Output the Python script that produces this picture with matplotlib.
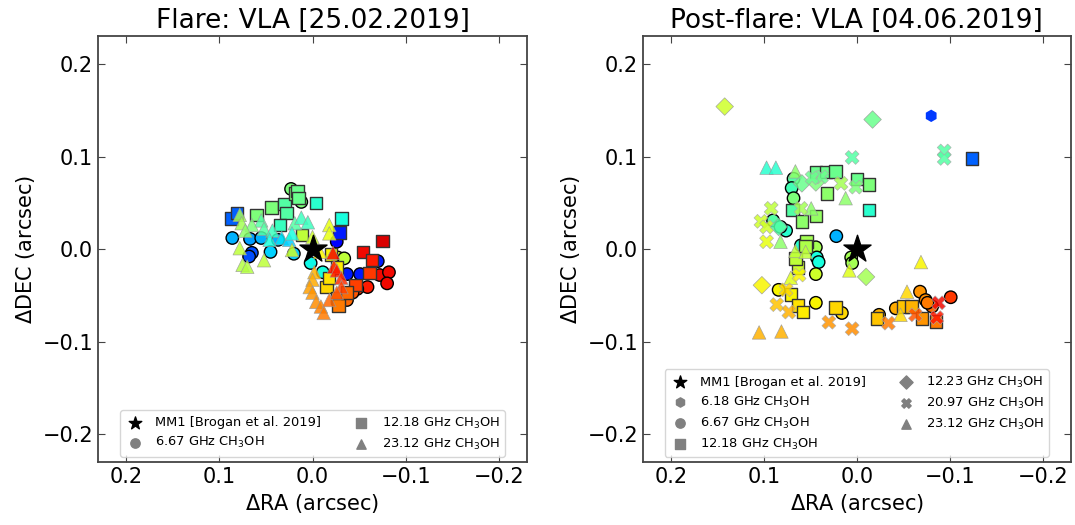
import matplotlib

matplotlib.use("Agg")
import matplotlib.pyplot as plt
import numpy as np

# ---- Flare epoch (25.02.2019): offsets in arcsec, colour = velocity scale (0-1, jet)
f_c667_ra = [0.086, 0.067, 0.065, 0.068, 0.045, 0.037, 0.055, 0.020, 0.002, -0.011,
             -0.027, -0.034, -0.026, -0.037, -0.051, -0.070, -0.059, -0.072, -0.082,
             -0.080, -0.048, -0.043, -0.037, -0.027, 0.023, 0.012]
f_c667_dec = [0.012, 0.011, -0.004, -0.008, -0.003, 0.010, 0.012, -0.005, -0.015, -0.025,
              -0.009, -0.010, 0.008, -0.027, -0.027, -0.013, -0.041, -0.028, -0.025,
              -0.037, -0.043, -0.047, -0.055, -0.057, 0.065, 0.051]
f_c667_v = [0.30, 0.28, 0.20, 0.20, 0.33, 0.30, 0.30, 0.33, 0.37, 0.38,
            0.60, 0.58, 0.12, 0.15, 0.15, 0.15, 0.88, 0.90, 0.90,
            0.90, 0.86, 0.82, 0.80, 0.78, 0.50, 0.50]

f_s1218_ra = [0.087, 0.081, 0.060, 0.044, 0.030, 0.019, 0.016, 0.015, 0.028, 0.035,
              -0.004, -0.031, -0.029, 0.011, -0.075, -0.054, -0.064, -0.061, -0.046,
              -0.020, -0.026, -0.015, -0.018, -0.026, -0.028, -0.037]
f_s1218_dec = [0.033, 0.039, 0.037, 0.045, 0.049, 0.060, 0.063, 0.055, 0.039, 0.026,
               0.050, 0.033, 0.018, 0.015, 0.009, -0.003, -0.012, -0.026, -0.039,
               -0.006, -0.020, -0.041, -0.031, -0.053, -0.061, -0.047]
f_s1218_v = [0.22, 0.22, 0.50, 0.50, 0.45, 0.50, 0.48, 0.48, 0.45, 0.42,
             0.40, 0.38, 0.15, 0.58, 0.92, 0.90, 0.88, 0.85, 0.84,
             0.65, 0.66, 0.68, 0.67, 0.78, 0.78, 0.80]

f_t2312_ra = [0.078, 0.076, 0.078, 0.075, 0.070, 0.052, 0.055, 0.052, 0.043, 0.046,
              0.033, 0.025, 0.019, 0.022, 0.012, 0.005, 0.000, 0.022, -0.018, -0.018,
              -0.008, -0.022, -0.023, -0.026, -0.031, -0.031, -0.002, 0.000, 0.003,
              0.000, -0.004, -0.009, -0.012, -0.018, -0.026, 0.065, 0.072]
f_t2312_dec = [0.037, 0.028, 0.001, -0.017, -0.019, -0.012, 0.031, 0.022, 0.020, 0.010,
               0.012, 0.010, 0.028, 0.017, 0.034, 0.029, 0.013, -0.001, 0.026, 0.017,
               -0.003, -0.004, -0.019, -0.023, -0.031, -0.041, -0.025, -0.033, -0.041,
               -0.047, -0.057, -0.062, -0.069, -0.055, -0.047, 0.026, 0.020]
f_t2312_v = [0.55, 0.55, 0.58, 0.57, 0.57, 0.58, 0.45, 0.45, 0.42, 0.38,
             0.35, 0.33, 0.45, 0.38, 0.42, 0.42, 0.60, 0.60, 0.63, 0.63,
             0.65, 0.90, 0.88, 0.88, 0.86, 0.84, 0.72, 0.73, 0.74,
             0.75, 0.76, 0.77, 0.78, 0.80, 0.82, 0.50, 0.52]

# ---- Post-flare epoch (04.06.2019)
p_h618_ra = [-0.080]
p_h618_dec = [0.144]
p_h618_v = [0.18]

p_c667_ra = [0.068, 0.070, 0.068, 0.090, 0.076, 0.082, 0.022, 0.044, 0.043, 0.041,
             0.044, 0.060, 0.006, 0.005, 0.084, 0.044, 0.016, -0.068, -0.074, -0.101,
             -0.024, -0.042, -0.081, -0.076]
p_c667_dec = [0.076, 0.066, 0.055, 0.031, 0.020, 0.024, 0.014, 0.002, -0.009, -0.014,
              -0.027, 0.004, -0.009, -0.015, -0.044, -0.058, -0.069, -0.046, -0.055, -0.052,
              -0.071, -0.064, -0.062, -0.058]
p_c667_v = [0.45, 0.43, 0.50, 0.45, 0.40, 0.42, 0.30, 0.55, 0.38, 0.38,
            0.60, 0.40, 0.55, 0.55, 0.65, 0.65, 0.68, 0.75, 0.76, 0.85,
            0.72, 0.73, 0.80, 0.78]

p_s1218_ra = [-0.124, -0.013, 0.044, 0.033, 0.023, 0.000, -0.013, 0.032, 0.069, 0.059,
              0.044, 0.054, 0.055, 0.063, 0.071, 0.063, 0.058, 0.023, -0.022, -0.050,
              -0.059, -0.070, -0.085, 0.066]
p_s1218_dec = [0.098, 0.042, 0.083, 0.083, 0.084, 0.076, 0.070, 0.060, 0.042, 0.030,
               0.036, 0.008, 0.003, -0.020, -0.049, -0.061, -0.068, -0.063, -0.075, -0.062,
               -0.062, -0.075, -0.078, -0.010]
p_s1218_v = [0.22, 0.40, 0.48, 0.48, 0.48, 0.48, 0.50, 0.52, 0.45, 0.52,
             0.53, 0.55, 0.56, 0.60, 0.65, 0.67, 0.66, 0.68, 0.70, 0.70,
             0.72, 0.75, 0.78, 0.58]

p_d1223_ra = [0.142, -0.017, 0.059, 0.044, 0.084, 0.102, -0.010]
p_d1223_dec = [0.154, 0.140, 0.071, 0.072, 0.024, -0.039, -0.030]
p_d1223_v = [0.60, 0.48, 0.48, 0.50, 0.45, 0.65, 0.55]

p_x2097_ra = [0.005, -0.094, -0.094, 0.017, 0.001, 0.038, 0.048, 0.092, 0.103, 0.097,
              0.097, 0.060, 0.062, 0.076, 0.086, 0.073, 0.030, 0.005, -0.034, -0.063,
              -0.088, -0.086]
p_x2097_dec = [0.099, 0.106, 0.098, 0.071, 0.067, 0.078, 0.077, 0.044, 0.030, 0.024,
               0.008, 0.044, -0.028, -0.044, -0.060, -0.068, -0.079, -0.086, -0.080, -0.071,
               -0.058, -0.074]
p_x2097_v = [0.45, 0.45, 0.45, 0.55, 0.50, 0.48, 0.48, 0.58, 0.60, 0.60,
             0.63, 0.55, 0.65, 0.68, 0.70, 0.72, 0.75, 0.76, 0.78, 0.82,
             0.90, 0.88]

p_t2312_ra = [0.097, 0.087, 0.066, 0.012, 0.049, 0.082, 0.066, 0.055, 0.008, -0.069,
              0.071, -0.054, -0.047, 0.105, 0.081]
p_t2312_dec = [0.088, 0.088, 0.084, 0.055, 0.044, 0.008, -0.002, -0.003, -0.023, -0.014,
               -0.031, -0.046, -0.071, -0.090, -0.089]
p_t2312_v = [0.40, 0.40, 0.52, 0.52, 0.52, 0.52, 0.58, 0.58, 0.62, 0.65,
             0.62, 0.68, 0.68, 0.72, 0.72]

cmap = plt.cm.jet
S = 80
LEG = dict(loc="lower center", ncol=2, fontsize=9.4, columnspacing=2.3,
           handlelength=1.5, handletextpad=0.8, labelspacing=0.45,
           borderaxespad=0.4)


def setup(ax, title):
    ax.set_xlim(0.23, -0.23)
    ax.set_ylim(-0.23, 0.23)
    ax.set_xticks([0.2, 0.1, 0.0, -0.1, -0.2])
    ax.set_yticks([-0.2, -0.1, 0.0, 0.1, 0.2])
    ax.tick_params(direction="in", top=True, right=True, labelsize=15,
                   length=5, color="#444444")
    for sp in ax.spines.values():
        sp.set_color("#444444")
        sp.set_linewidth(1.3)
    ax.set_title(title, fontsize=19)
    ax.set_xlabel(r"$\Delta$RA (arcsec)", fontsize=15)
    ax.set_ylabel(r"$\Delta$DEC (arcsec)", fontsize=15)


def pts(ax, x, y, v, marker, edge, s=S, alpha=1.0, lw=1.0):
    ax.scatter(x, y, c=cmap(np.array(v)), marker=marker, s=s, edgecolors=edge,
               linewidths=lw, alpha=alpha, zorder=3)


def handle(ax, marker, label, color="#808080", s=45):
    return ax.scatter([], [], marker=marker, s=s, c=color, label=label)


fig = plt.figure(figsize=(10.75, 5.25), dpi=100)
ax1 = fig.add_axes([0.0912, 0.12, 0.399, 0.811])
ax2 = fig.add_axes([0.598, 0.12, 0.398, 0.811])

# left: flare
pts(ax1, f_c667_ra, f_c667_dec, f_c667_v, "o", "black")
pts(ax1, f_s1218_ra, f_s1218_dec, f_s1218_v, "s", "#333333")
pts(ax1, f_t2312_ra, f_t2312_dec, f_t2312_v, "^", "#999999", s=95, alpha=0.85, lw=0.5)
ax1.scatter([0], [0], marker="*", s=420, c="black", zorder=5)
setup(ax1, "Flare: VLA [25.02.2019]")

h1 = [
    handle(ax1, "*", "MM1 [Brogan et al. 2019]", color="black", s=90),
    handle(ax1, "o", r"6.67 GHz CH$_3$OH"),
    handle(ax1, "s", r"12.18 GHz CH$_3$OH"),
    handle(ax1, "^", r"23.12 GHz CH$_3$OH"),
]
ax1.legend(handles=h1, **LEG)

# right: post-flare
pts(ax2, p_c667_ra, p_c667_dec, p_c667_v, "o", "black")
pts(ax2, p_s1218_ra, p_s1218_dec, p_s1218_v, "s", "#333333")
pts(ax2, p_t2312_ra, p_t2312_dec, p_t2312_v, "^", "#999999", s=95, alpha=0.85, lw=0.5)
pts(ax2, p_d1223_ra, p_d1223_dec, p_d1223_v, "D", "#999999", s=80, alpha=0.85, lw=0.5)
pts(ax2, p_x2097_ra, p_x2097_dec, p_x2097_v, "X", "#aaaaaa", s=100, alpha=0.85, lw=0.5)
pts(ax2, p_h618_ra, p_h618_dec, p_h618_v, "h", "none", s=80)
ax2.scatter([0], [0], marker="*", s=420, c="black", zorder=5)
setup(ax2, "Post-flare: VLA [04.06.2019]")

h2 = [
    handle(ax2, "*", "MM1 [Brogan et al. 2019]", color="black", s=90),
    handle(ax2, "h", r"6.18 GHz CH$_3$OH"),
    handle(ax2, "o", r"6.67 GHz CH$_3$OH"),
    handle(ax2, "s", r"12.18 GHz CH$_3$OH"),
    handle(ax2, "D", r"12.23 GHz CH$_3$OH"),
    handle(ax2, "X", r"20.97 GHz CH$_3$OH"),
    handle(ax2, "^", r"23.12 GHz CH$_3$OH"),
]
ax2.legend(handles=h2, **LEG)

fig.savefig("out.png", dpi=100)
